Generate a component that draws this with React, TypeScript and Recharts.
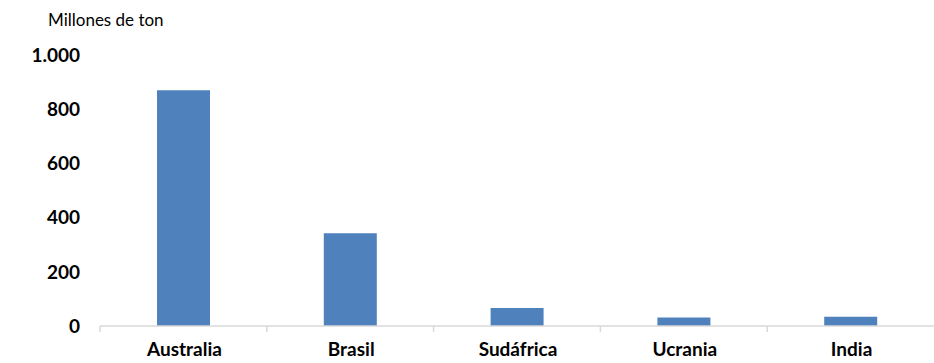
import { Bar, BarChart, XAxis, YAxis } from 'recharts'

const countries = ['Australia', 'Brasil', 'Sudáfrica', 'Ucrania', 'India']
const reserves = [870, 342, 66, 31, 34]
const yTicks = [0, 200, 400, 600, 800, 1000]

const data = countries.map((name, i) => ({ name, value: reserves[i] }))

const font = 'Lato, "Open Sans", sans-serif'
const axisGrey = '#D9D9D9'
const chartWidth = 934
const chartHeight = 363
const margin = { top: 55, right: 0, left: 0, bottom: 7 }
const yAxisWidth = 100
const bandWidth = (chartWidth - yAxisWidth - margin.left - margin.right) / countries.length

function formatThousands(value: number) {
  return String(value).replace(/\B(?=(\d{3})+(?!\d))/g, '.')
}

function CategoryTick({ x, y, payload }: any) {
  return (
    <g>
      <line x1={x - bandWidth / 2} x2={x - bandWidth / 2} y1={y - 8} y2={y - 2} stroke={axisGrey} strokeWidth={1.5} />
      <text x={x + 1} y={y + 22} textAnchor="middle" fontFamily={font} fontWeight={700} fontSize={19} fill="#000">
        {payload.value}
      </text>
    </g>
  )
}

export default function App() {
  return (
    <div style={{ position: 'absolute', left: 0, top: 0, width: chartWidth, height: chartHeight, background: '#fff' }}>
      <div style={{ position: 'absolute', left: 48, top: 9, fontFamily: font, fontSize: 17, color: '#000' }}>
        Millones de ton
      </div>
      <BarChart width={chartWidth} height={chartHeight} data={data} margin={margin}>
        <XAxis
          dataKey="name"
          height={30}
          axisLine={{ stroke: axisGrey, strokeWidth: 1.5 }}
          tickLine={false}
          tick={<CategoryTick />}
          interval={0}
        />
        <YAxis
          width={yAxisWidth}
          domain={[0, 1000]}
          ticks={yTicks}
          tickFormatter={formatThousands}
          axisLine={false}
          tickLine={false}
          tickSize={0}
          tickMargin={20}
          tick={{ fontFamily: font, fontWeight: 700, fontSize: 19, fill: '#000' }}
        />
        <Bar dataKey="value" fill="#4F81BD" barSize={53} isAnimationActive={false} />
      </BarChart>
    </div>
  )
}
